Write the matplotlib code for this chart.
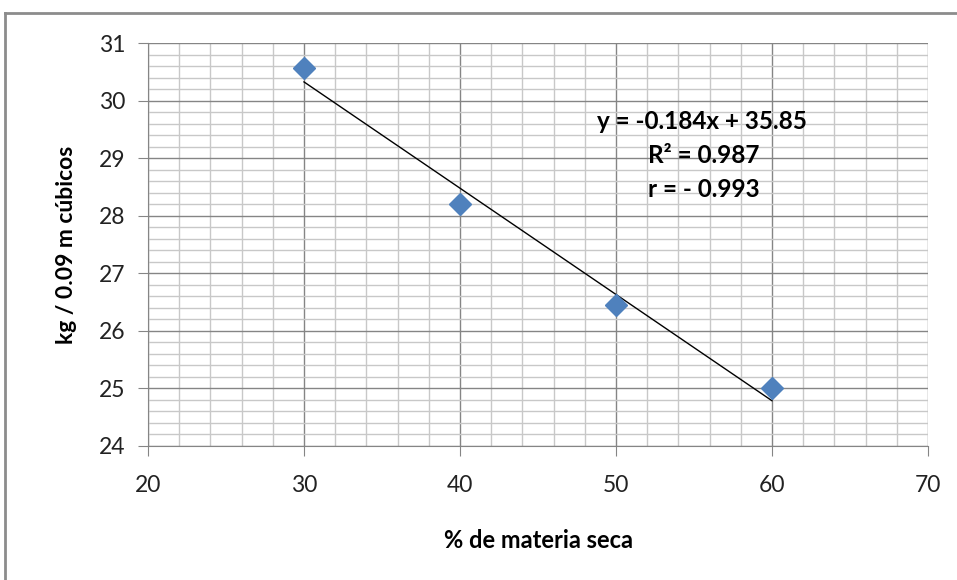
import numpy as np
import matplotlib.pyplot as plt
from matplotlib.ticker import MultipleLocator
from matplotlib.lines import Line2D

# datos
materia_seca = np.array([30, 40, 50, 60])
kg_volumen = np.array([30.57, 28.2, 26.45, 25.0])
ecuacion = ['y = -0.184x + 35.85', 'R² = 0.987', 'r = - 0.993']

plt.rcParams['font.family'] = ['Lato', 'DejaVu Sans']

fig = plt.figure(figsize=(9.57, 5.8), dpi=100)
ax = fig.add_axes([148/957, 1 - 446/580, (928 - 148)/957, (446 - 43)/580])

# marco exterior del grafico
fig.add_artist(Line2D([5/957, 5/957], [0, 1 - 13/580], transform=fig.transFigure,
                      color='#8c8c8c', linewidth=2))
fig.add_artist(Line2D([5/957, 1], [1 - 13/580, 1 - 13/580], transform=fig.transFigure,
                      color='#8c8c8c', linewidth=2))

ax.set_xlim(20, 70)
ax.set_ylim(24, 31)
ax.xaxis.set_major_locator(MultipleLocator(10))
ax.xaxis.set_minor_locator(MultipleLocator(2))
ax.yaxis.set_major_locator(MultipleLocator(1))
ax.yaxis.set_minor_locator(MultipleLocator(0.2))
ax.grid(which='major', color='#858585', linewidth=1)
ax.grid(which='minor', color='#c8c8c8', linewidth=1)
ax.set_axisbelow(True)

for s in ['top', 'right']:
    ax.spines[s].set_visible(False)
for s in ['left', 'bottom']:
    ax.spines[s].set_color('#858585')
ax.tick_params(which='major', direction='out', length=7, color='#858585',
               labelsize=16.5, labelcolor='#222222')
ax.tick_params(axis='y', pad=9)
ax.tick_params(axis='x', pad=14)
ax.tick_params(which='minor', length=0)

# linea de tendencia
m, b = np.polyfit(materia_seca, kg_volumen, 1)
ax.plot(materia_seca[[0, -1]], m * materia_seca[[0, -1]] + b, color='black', linewidth=1)

ax.plot(materia_seca, kg_volumen, linestyle='none', marker='D', markersize=11,
        color='#4f81bd', markeredgecolor='#4f81bd', clip_on=False)

ax.text(48.8, 29.63, ecuacion[0], fontsize=17.5, fontweight='bold', ha='left', va='center')
ax.text(52.05, 29.05, ecuacion[1], fontsize=17.5, fontweight='bold', ha='left', va='center')
ax.text(52.05, 28.45, ecuacion[2], fontsize=17.5, fontweight='bold', ha='left', va='center')

ax.set_xlabel('% de materia seca', fontsize=17, fontweight='bold', labelpad=24)
ax.set_ylabel('kg / 0.09 m cúbicos', fontsize=16.5, fontweight='bold', labelpad=16)

plt.savefig('out.png', dpi=100)
